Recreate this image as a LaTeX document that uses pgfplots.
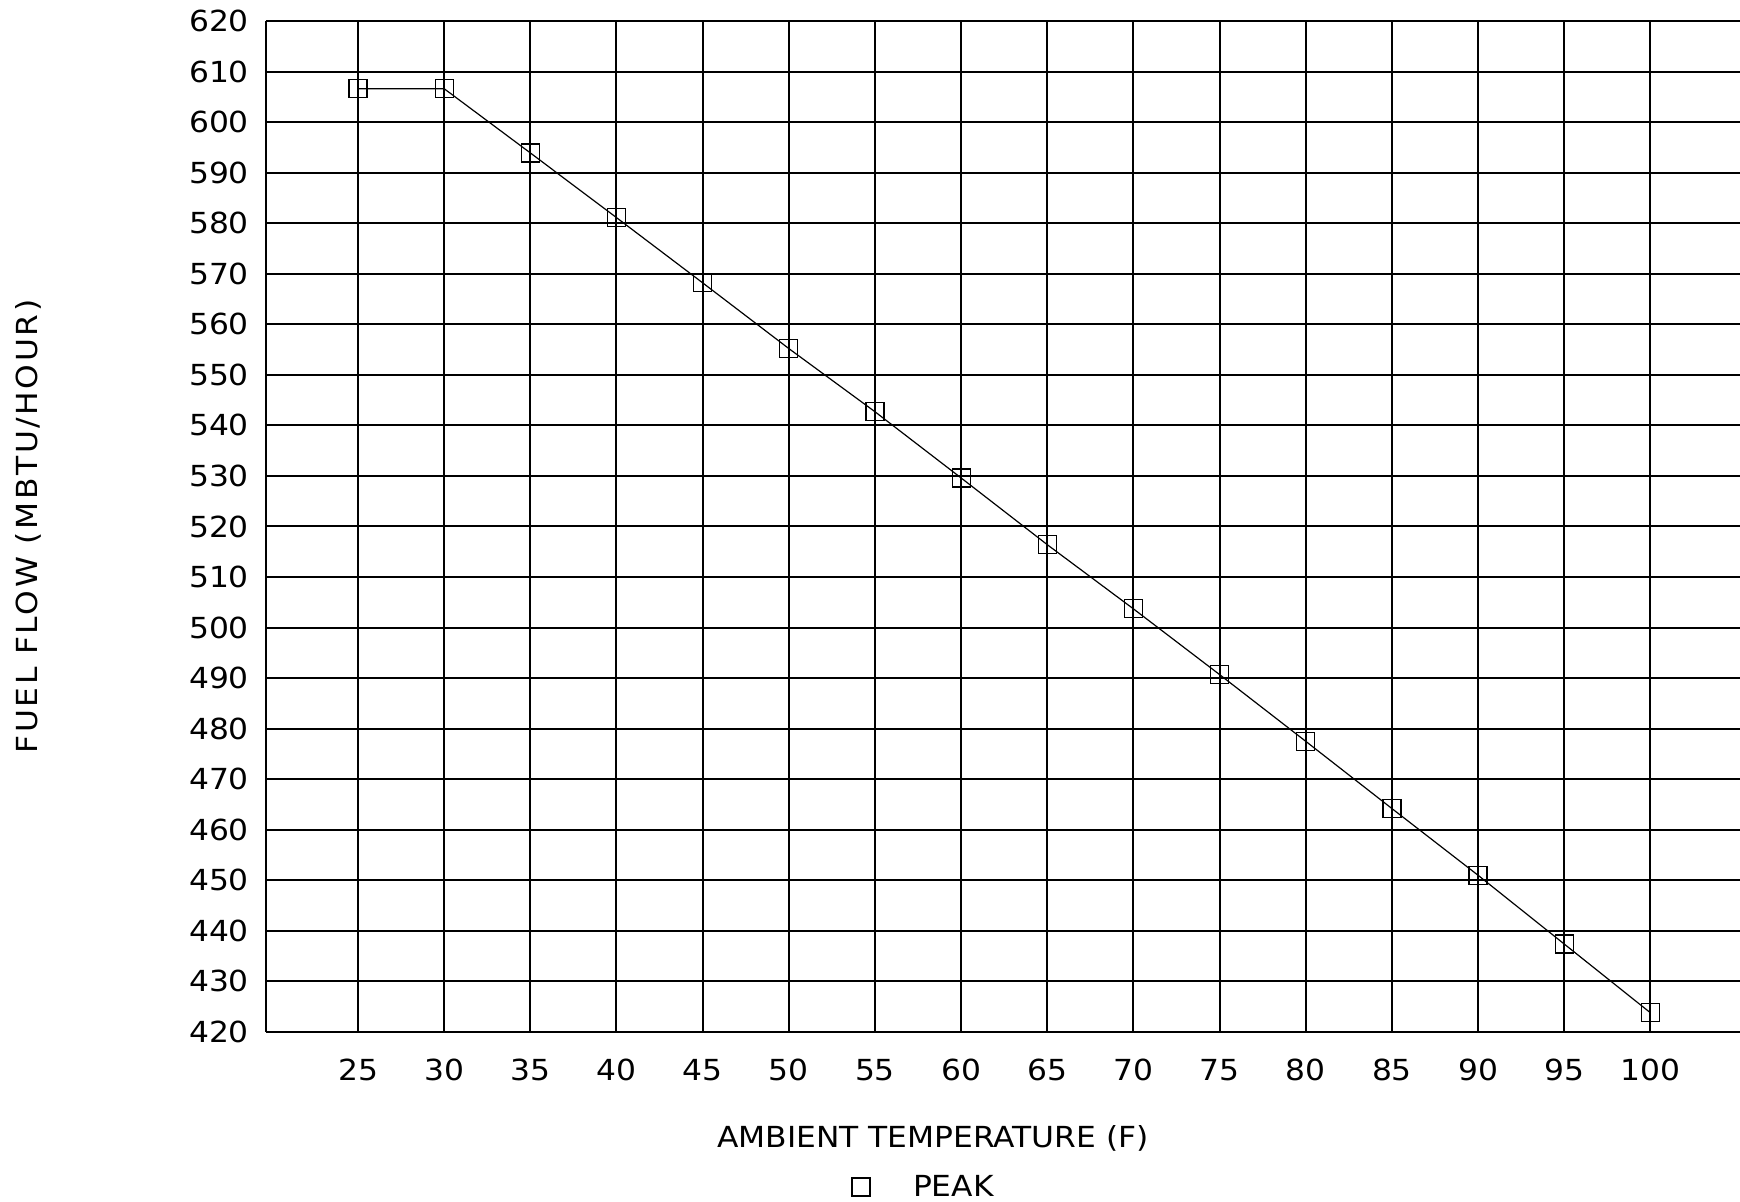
\documentclass[border=0pt]{standalone}
\usepackage{pgfplots}
\pgfplotsset{compat=1.18}
\usepackage{fontspec}
\setmainfont[FakeStretch=1.08]{DejaVu Sans}
\newfontfamily\ylabfont[FakeStretch=1.08, LetterSpace=9]{DejaVu Sans}

\begin{document}
\begin{tikzpicture}
\begin{axis}[
    at={(0,0)}, anchor=origin,
    scale only axis, width=737pt, height=505.5pt,
    xmin=19.66, xmax=105.2, ymin=420, ymax=620,
    axis lines=left, axis line style={-, line width=1.1pt},
    xtick={25,30,...,100}, ytick={420,430,...,620},
    major tick length=0pt,
    grid=major, major grid style={black, line width=1pt},
    tick label style={font=\fontsize{14.5}{16}\selectfont},
    /pgf/number format/assume math mode=true,
    /pgf/number format/1000 sep={},
    xticklabel style={yshift=-10pt},
    yticklabel style={xshift=-5pt},
    xlabel={AMBIENT TEMPERATURE (F)},
    xlabel style={font=\fontsize{14.5}{16}\selectfont, at={(axis description cs:0.4525,0)}, anchor=center, yshift=-53pt},
    ylabel={FUEL FLOW (MBTU/HOUR)},
    ylabel style={font=\ylabfont\fontsize{14.5}{16}\selectfont, at={(axis description cs:-0.1615,0.5)}, anchor=center, rotate=0},
    legend style={draw=none, fill=none, font=\fontsize{14.5}{16}\selectfont,
        at={(axis description cs:0.447,-0.1533)}, anchor=center},
    legend image code/.code={
        \path[draw=none] (-4pt,0) -- (24pt,0);
        \draw[draw=none, mark=square, mark size=4.5pt, mark options={draw=black, line width=0.7pt}] plot coordinates {(0pt,0pt)};
    },
]
\addplot[black, line width=0.6pt, mark=square, mark size=4.5pt, mark options={line width=0.6pt}] coordinates {
    (25,606.6) (30,606.6) (35,593.9) (40,581.1) (45,568.2) (50,555.2)
    (55,542.7) (60,529.6) (65,516.4) (70,503.7) (75,490.7) (80,477.5)
    (85,464.2) (90,451.0) (95,437.4) (100,423.8)
};
\addlegendentry{PEAK}
\end{axis}
\pgfresetboundingbox
\path[use as bounding box] (-133pt,-85pt) rectangle (737pt,516pt);
\end{tikzpicture}
\end{document}
